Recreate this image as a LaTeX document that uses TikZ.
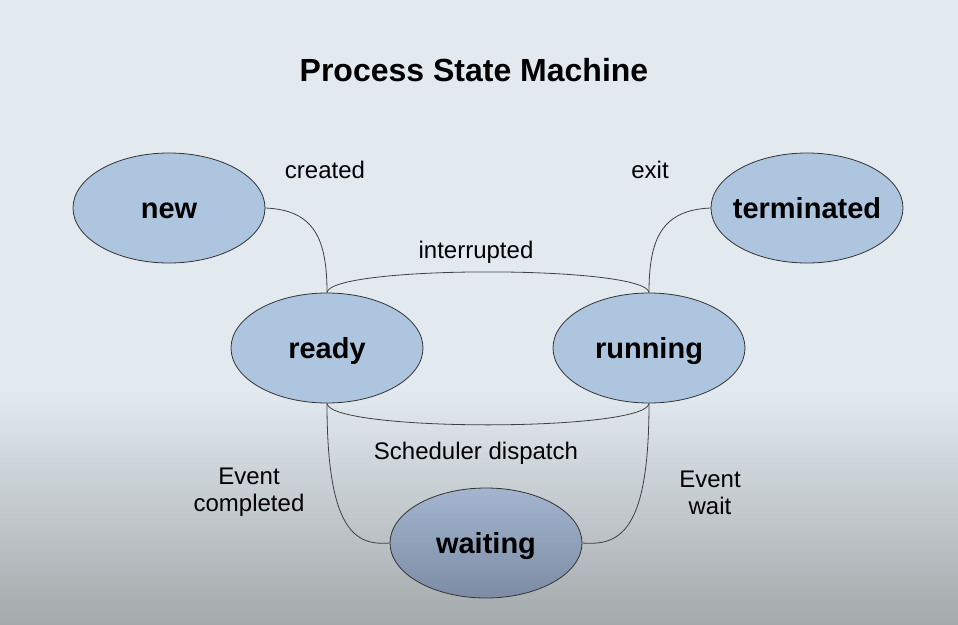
\documentclass[tikz,border=0pt]{standalone}
\usepackage{fontspec}
\setmainfont{Liberation Sans}
\usetikzlibrary{shapes.geometric}
\definecolor{bgtop}{RGB}{226,234,240}
\definecolor{bgbottom}{RGB}{164,169,171}
\definecolor{statefill}{RGB}{174,197,224}
\definecolor{waittop}{RGB}{163,181,207}
\definecolor{waitbottom}{RGB}{124,140,164}
\tikzset{
  state/.style={ellipse,draw=black!80,line width=0.6pt,fill=statefill,
    minimum width=144pt,minimum height=82.5pt,inner sep=0pt,
    text height=16pt,text depth=0pt,
    font=\fontsize{21.75pt}{24pt}\selectfont\bfseries},
  trans/.style={draw=black!75,line width=0.6pt},
  lbl/.style={font=\fontsize{18pt}{20pt}\selectfont,align=center}
}
\begin{document}
\begin{tikzpicture}[x=0.75pt,y=-0.75pt]
\useasboundingbox (0,0) rectangle (958,625);
\fill[bgtop] (0,0) rectangle (958,392);
\shade[top color=bgtop,bottom color=bgbottom] (0,391) rectangle (958,625);
\node[font=\fontsize{24pt}{28pt}\selectfont\bfseries] (title) at (474,70) {Process State Machine};
% states
\node[state] (new) at (169,208) {new};
\node[state] (terminated) at (807,208) {\makebox[0pt]{terminated}};
\node[state] (ready) at (327,348) {ready};
\node[state] (running) at (649,348) {running};
\node[state,top color=waittop,bottom color=waitbottom] (waiting) at (486,543) {waiting};
% transitions
\draw[trans] (new.east) .. controls (315,210) and (327,240) .. (ready.north);
\draw[trans] (terminated.west) .. controls (661,210) and (649,240) .. (running.north);
\draw[trans] (ready.north) .. controls (330,265) and (646,265) .. (running.north);
\draw[trans] (ready.south) .. controls (330,432) and (646,432) .. (running.south);
\draw[trans] (ready.south) .. controls (327,530) and (355,546) .. (waiting.west);
\draw[trans] (running.south) .. controls (649,530) and (621,546) .. (waiting.east);
% labels
\node[lbl] (lcreated) at (325,170) {created};
\node[lbl] (lexit) at (650,170) {exit};
\node[lbl] (linterrupted) at (476,252) {interrupted};
\node[lbl] (ldispatch) at (476,453) {Scheduler dispatch};
\node[lbl] (lcompleted) at (249,492) {Event\\completed};
\node[lbl] (lwait) at (710,493) {Event\\wait};
\end{tikzpicture}
\end{document}
